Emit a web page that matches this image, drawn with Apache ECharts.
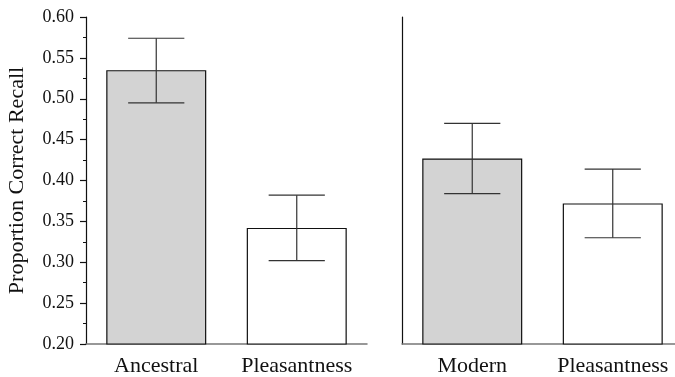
<!DOCTYPE html>
<html>
<head>
<meta charset="utf-8">
<script src="https://cdn.jsdelivr.net/npm/echarts@6/dist/echarts.min.js"></script>
<style>
  html, body { margin: 0; padding: 0; background: #fff; }
  #chart { width: 675px; height: 377px; }
</style>
</head>
<body>
<div id="chart"></div>
<script>
// Recall by encoding condition: two panels, each a survival condition vs. pleasantness
const ancestralCategories = ['Ancestral', 'Pleasantness'];
const ancestralMeans = [0.535, 0.342];
const ancestralLower = [0.495, 0.302];
const ancestralUpper = [0.574, 0.382];

const modernCategories = ['Modern', 'Pleasantness'];
const modernMeans = [0.427, 0.372];
const modernLower = [0.384, 0.330];
const modernUpper = [0.470, 0.414];

const barFills = ['#d3d3d3', '#ffffff'];

const yTitle = 'Proportion Correct Recall';
const yMin = 0.20, yMax = 0.60, yStep = 0.05;

const serif = '"Liberation Serif", "DejaVu Serif", serif';

function barData(means) {
  return means.map((v, i) => ({
    value: v,
    itemStyle: { color: barFills[i], borderColor: '#111', borderWidth: 1.2 }
  }));
}

function errorData(lower, upper) {
  return lower.map((lo, i) => [i, lo, upper[i]]);
}

function renderError(params, api) {
  const i = api.value(0);
  const lo = api.coord([i, api.value(1)]);
  const hi = api.coord([i, api.value(2)]);
  const half = api.size([1, 0])[0] * 0.2;
  const style = { stroke: '#333', lineWidth: 1.2, fill: null };
  return {
    type: 'group',
    children: [
      { type: 'line', shape: { x1: lo[0], y1: lo[1], x2: hi[0], y2: hi[1] }, style },
      { type: 'line', shape: { x1: hi[0] - half, y1: hi[1], x2: hi[0] + half, y2: hi[1] }, style },
      { type: 'line', shape: { x1: lo[0] - half, y1: lo[1], x2: lo[0] + half, y2: lo[1] }, style }
    ]
  };
}

function xAxisFor(cats, gridIndex) {
  return {
    type: 'category',
    gridIndex,
    data: cats,
    axisLine: { lineStyle: { color: '#777', width: 1.5 } },
    axisTick: { show: false },
    axisLabel: {
      color: '#111', fontFamily: serif, fontSize: 22, margin: 11,
      interval: 0, hideOverlap: false
    }
  };
}

const chart = echarts.init(document.getElementById('chart'), null, { renderer: 'canvas' });

chart.setOption({
  animation: false,
  backgroundColor: '#fff',
  grid: [
    { left: 86, top: 17, width: 281, height: 327, containLabel: false, outerBoundsMode: 'none' },
    { left: 402, top: 17, width: 281, height: 327, containLabel: false, outerBoundsMode: 'none' }
  ],
  xAxis: [xAxisFor(ancestralCategories, 0), xAxisFor(modernCategories, 1)],
  yAxis: [
    {
      type: 'value', gridIndex: 0, min: yMin, max: yMax, interval: yStep,
      name: yTitle, nameLocation: 'middle', nameGap: 58,
      nameTextStyle: { color: '#111', fontFamily: serif, fontSize: 22 },
      axisLine: { show: true, lineStyle: { color: '#111', width: 1.2 } },
      axisTick: { show: true, length: 6, lineStyle: { color: '#111', width: 1.2 } },
      minorTick: { show: true, splitNumber: 2, length: 3, lineStyle: { color: '#111', width: 1 } },
      splitLine: { show: false },
      axisLabel: {
        color: '#111', fontFamily: serif, fontSize: 18, margin: 12,
        formatter: v => v.toFixed(2)
      }
    },
    {
      type: 'value', gridIndex: 1, min: yMin, max: yMax, interval: yStep,
      axisLine: { show: true, lineStyle: { color: '#111', width: 1.2 } },
      axisTick: { show: false },
      splitLine: { show: false },
      axisLabel: { show: false }
    }
  ],
  series: [
    {
      type: 'bar', xAxisIndex: 0, yAxisIndex: 0, barWidth: 100,
      data: barData(ancestralMeans), z: 2
    },
    {
      type: 'custom', xAxisIndex: 0, yAxisIndex: 0, renderItem: renderError,
      data: errorData(ancestralLower, ancestralUpper), z: 3
    },
    {
      type: 'bar', xAxisIndex: 1, yAxisIndex: 1, barWidth: 100,
      data: barData(modernMeans), z: 2
    },
    {
      type: 'custom', xAxisIndex: 1, yAxisIndex: 1, renderItem: renderError,
      data: errorData(modernLower, modernUpper), z: 3
    }
  ]
});
</script>
</body>
</html>
